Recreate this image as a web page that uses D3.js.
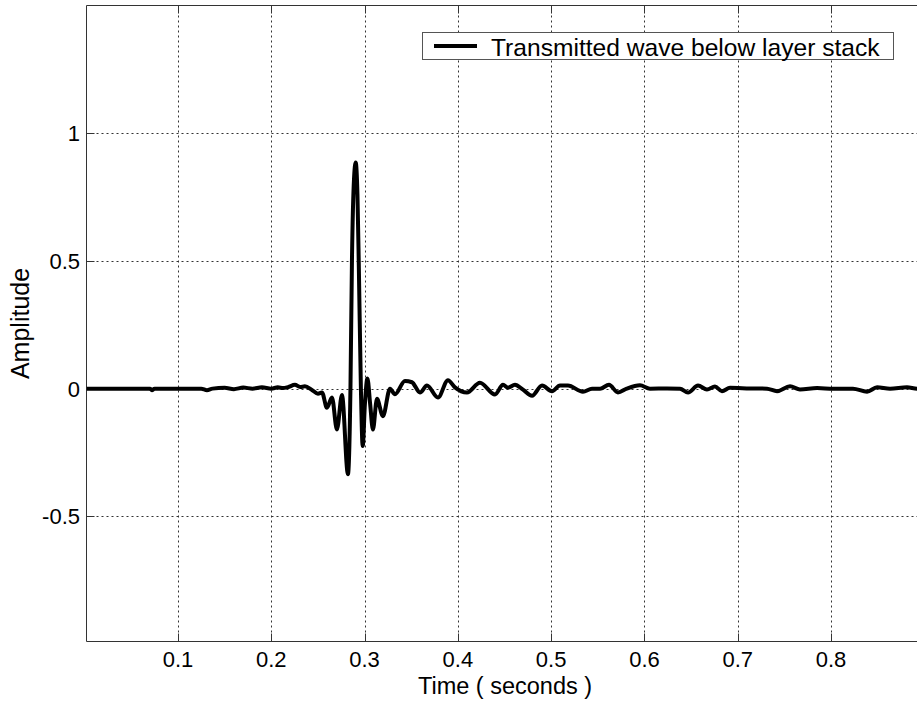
<!DOCTYPE html>
<html>
<head>
<meta charset="utf-8">
<script src="https://cdn.jsdelivr.net/npm/d3@7"></script>
<style>
body { margin: 0; background: #fff; }
text { font-family: "Liberation Sans", Arial, sans-serif; fill: #000; }
</style>
</head>
<body>
<div class="chart"></div>
<script>
// samples (seconds, amplitude)
const time = [0.002, 0.05, 0.070, 0.0721, 0.075, 0.125, 0.1311, 0.137, 0.150, 0.160, 0.170, 0.180, 0.190, 0.200,
  0.207, 0.2126, 0.218, 0.2254, 0.231, 0.2361, 0.2436, 0.2501, 0.2544, 0.2597, 0.2651, 0.2704, 0.2758, 0.2822,
  0.2849, 0.2865, 0.2887, 0.2905, 0.2924, 0.2940, 0.2961, 0.2980, 0.3004, 0.3031, 0.3060, 0.3090, 0.3133, 0.3197,
  0.3273, 0.3326, 0.3433, 0.3508, 0.3594, 0.3669, 0.3787, 0.3894, 0.3969, 0.4098, 0.4237, 0.4398, 0.4484, 0.4537,
  0.4612, 0.4698, 0.4795, 0.4902, 0.5009, 0.5095, 0.5180, 0.5341, 0.5438, 0.5524, 0.5620, 0.5716, 0.5810, 0.5952,
  0.6059, 0.6242, 0.6381, 0.6467, 0.6574, 0.6670, 0.6756, 0.6831, 0.6917, 0.7131, 0.7314, 0.7421, 0.7560, 0.7667,
  0.7850, 0.8022, 0.8235, 0.8386, 0.8493, 0.8632, 0.8814, 0.8922, 0.898];
const amplitude = [0, 0, 0, -0.006, 0, 0, -0.006, 0, 0.003, -0.002, 0.004, 0, 0.005, 0,
  0.005, 0.002, 0.006, 0.015, 0.006, 0.009, -0.005, -0.02, -0.015, -0.075, -0.035, -0.16, -0.025, -0.335,
  0.0, 0.5, 0.82, 0.885, 0.76, 0.45, 0.0, -0.225, -0.06, 0.04, -0.06, -0.16, -0.04, -0.108,
  0.0, -0.022, 0.03, 0.025, -0.015, 0.012, -0.035, 0.033, 0.005, -0.015, 0.023, -0.023, 0.015, 0.004,
  0.015, -0.004, -0.028, 0.012, -0.01, 0.012, 0.012, -0.012, 0, 0, 0.015, -0.015, 0, 0.013,
  0, 0.001, 0, -0.015, 0.012, -0.003, 0.008, -0.01, 0.003, 0.001, 0, -0.01, 0.009, -0.003,
  0.002, 0, 0, -0.012, 0.005, 0, 0.005, 0, 0];
const xTicks = [0.1, 0.2, 0.3, 0.4, 0.5, 0.6, 0.7, 0.8];
const yTicks = [-0.5, 0, 0.5, 1];
const seriesName = "Transmitted wave below layer stack";
const xLabel = "Time ( seconds )";
const yLabel = "Amplitude";

const W = 917, H = 702;
const pLeft = 86.5, pTop = 5.5, pRight = 922.5, pBottom = 641.5;

const svg = d3.select(".chart").append("svg")
    .attr("width", W)
    .attr("height", H);

const x = d3.scaleLinear().domain([0.002, 0.898]).range([pLeft, pRight]);
const y = d3.scaleLinear().domain([-0.99, 1.5]).range([pBottom, pTop]);

svg.append("clipPath").attr("id", "plot")
  .append("rect")
    .attr("x", pLeft).attr("y", pTop)
    .attr("width", pRight - pLeft).attr("height", pBottom - pTop);

// dotted grid
svg.append("g")
    .selectAll("line")
    .data(xTicks)
    .join("line")
    .attr("x1", d => Math.round(x(d)) + 0.5).attr("x2", d => Math.round(x(d)) + 0.5)
    .attr("y1", pTop).attr("y2", pBottom)
    .attr("stroke", "#333").attr("stroke-dasharray", "2,3");

svg.append("g")
    .selectAll("line")
    .data(yTicks)
    .join("line")
    .attr("y1", d => Math.round(y(d)) + 0.5).attr("y2", d => Math.round(y(d)) + 0.5)
    .attr("x1", pLeft).attr("x2", pRight)
    .attr("stroke", "#333").attr("stroke-dasharray", "2,3");

// axes box and inner ticks
const frame = svg.append("g").attr("stroke", "#333").attr("stroke-width", 1);
frame.append("path").attr("fill", "none")
    .attr("d", `M${pRight},${pTop}H${pLeft}V${pBottom}H${pRight}`);
frame.append("g").selectAll("line")
    .data(xTicks)
    .join("line")
    .attr("x1", d => Math.round(x(d)) + 0.5).attr("x2", d => Math.round(x(d)) + 0.5)
    .attr("y1", pBottom).attr("y2", pBottom - 8);
frame.append("g").selectAll("line")
    .data(xTicks)
    .join("line")
    .attr("x1", d => Math.round(x(d)) + 0.5).attr("x2", d => Math.round(x(d)) + 0.5)
    .attr("y1", pTop).attr("y2", pTop + 8);
frame.append("g").selectAll("line")
    .data(yTicks)
    .join("line")
    .attr("y1", d => Math.round(y(d)) + 0.5).attr("y2", d => Math.round(y(d)) + 0.5)
    .attr("x1", pLeft).attr("x2", pLeft + 8);

// tick labels
svg.append("g")
    .selectAll("text")
    .data(xTicks)
    .join("text")
    .attr("x", d => x(d))
    .attr("y", pBottom + 25)
    .attr("text-anchor", "middle")
    .attr("font-size", 22)
    .text(d => d);

svg.append("g")
    .selectAll("text")
    .data(yTicks)
    .join("text")
    .attr("x", 80)
    .attr("y", d => y(d) + 8)
    .attr("text-anchor", "end")
    .attr("font-size", 22)
    .text(d => d);

svg.append("text")
    .attr("x", 505)
    .attr("y", pBottom + 52)
    .attr("text-anchor", "middle")
    .attr("font-size", 23.5)
    .text(xLabel);

svg.append("text")
    .attr("transform", `translate(29,${(pTop + pBottom) / 2}) rotate(-90)`)
    .attr("text-anchor", "middle")
    .attr("font-size", 25)
    .text(yLabel);

// trace
const line = d3.line()
    .x((d, i) => x(time[i]))
    .y(d => y(d))
    .curve(d3.curveMonotoneX);

svg.append("path")
    .datum(amplitude)
    .attr("clip-path", "url(#plot)")
    .attr("fill", "none")
    .attr("stroke", "#000")
    .attr("stroke-width", 4)
    .attr("stroke-linejoin", "round")
    .attr("d", line);

// legend
const legend = svg.append("g");
legend.append("rect")
    .attr("x", 422.5).attr("y", 32.5)
    .attr("width", 471).attr("height", 27)
    .attr("fill", "#fff").attr("stroke", "#555");
legend.append("line")
    .attr("x1", 434).attr("x2", 477)
    .attr("y1", 46).attr("y2", 46)
    .attr("stroke", "#000").attr("stroke-width", 4);
legend.append("text")
    .attr("x", 491)
    .attr("y", 56)
    .attr("font-size", 24.6)
    .text(seriesName);
</script>
</body>
</html>
